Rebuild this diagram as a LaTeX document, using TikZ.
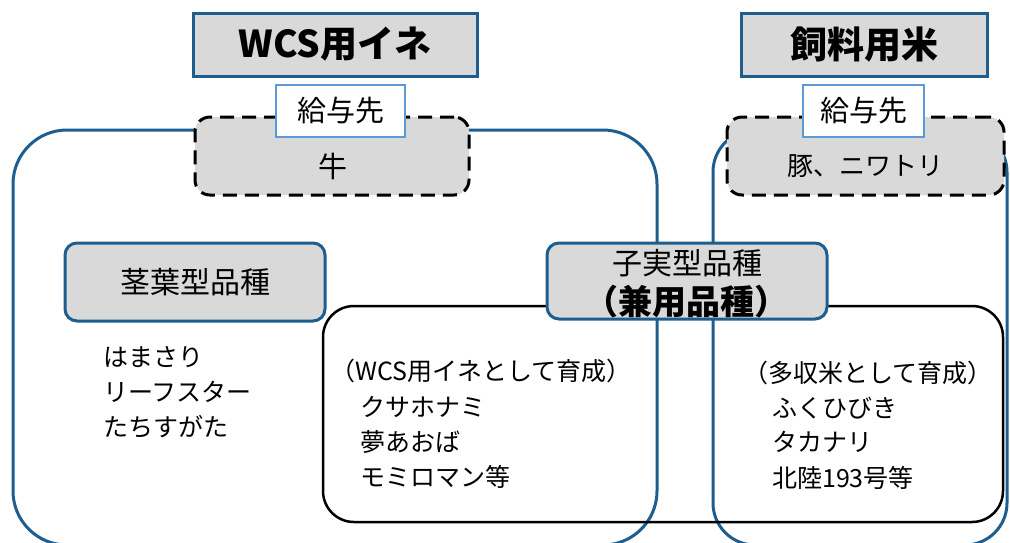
\documentclass[tikz,border=0pt]{standalone}
\usepackage{fontspec}
\setmainfont{Noto Sans CJK JP}
\definecolor{frameblue}{HTML}{1D5E8E}
\definecolor{boxgray}{HTML}{D9D9D9}
\definecolor{lightblue}{HTML}{5B9BD5}
\tikzset{
  bluearea/.style={draw=frameblue, line width=3pt, inner sep=0pt},
  blackarea/.style={draw=black, line width=2.5pt, inner sep=0pt},
  titlebox/.style={draw=frameblue, fill=boxgray, line width=3pt, inner sep=0pt, font=\fontsize{37}{40}\selectfont\bfseries},
  dashbox/.style={draw=black, fill=boxgray, line width=3pt, dash pattern=on 14pt off 8pt, rounded corners=15pt, inner sep=0pt},
  givebox/.style={draw=lightblue, fill=white, line width=1.5pt, inner sep=0pt, font=\fontsize{29}{32}\selectfont},
  kindbox/.style={draw=frameblue, fill=boxgray, line width=3pt, rounded corners=12pt, inner sep=0pt},
  listtext/.style={anchor=west, inner sep=0pt, font=\fontsize{25}{28}\selectfont},
}
\begin{document}
\begin{tikzpicture}[x=1pt,y=-1pt]
\useasboundingbox (0,0) rectangle (1010,542);
\clip (0,0) rectangle (1010,542);
\fill[white] (0,0) rectangle (1010,542);
% large frames
\node[bluearea, rounded corners=54pt, minimum width=644pt, minimum height=415pt] (wcsarea) at (335,337.5) {};
\node[bluearea, rounded corners=42pt, minimum width=294pt, minimum height=415pt] (feedarea) at (860,337.5) {};
\node[blackarea, rounded corners=31pt, minimum width=680pt, minimum height=216pt] (grainarea) at (663,414) {};
% titles
\node[titlebox, minimum width=284pt, minimum height=63pt] (wcstitle) at (335,44.5) {WCS用イネ};
\node[titlebox, minimum width=246pt, minimum height=63pt] (feedtitle) at (864,44.5) {飼料用米};
% feeding targets
\node[dashbox, minimum width=274pt, minimum height=78pt] (cowbox) at (332,156) {};
\node[dashbox, minimum width=277pt, minimum height=78pt] (pigbox) at (865.5,156) {};
\node[givebox, minimum width=129pt, minimum height=52pt] (giveL) at (340.5,111) {給与先};
\node[givebox, minimum width=121pt, minimum height=52pt] (giveR) at (863.5,111) {給与先};
\node[inner sep=0pt, font=\fontsize{29}{32}\selectfont] (cow) at (333,166) {牛};
\node[inner sep=0pt, font=\fontsize{26}{30}\selectfont] (pig) at (865,166) {豚、ニワトリ};
% variety types
\node[kindbox, minimum width=260pt, minimum height=78pt, font=\fontsize{30}{32}\selectfont] (stem) at (195,282) {茎葉型品種};
\node[kindbox, minimum width=280pt, minimum height=76pt] (grain) at (687,281) {};
\node[inner sep=0pt, font=\fontsize{30}{32}\selectfont] (grainA) at (687,263) {子実型品種};
\node[inner sep=0pt, font=\fontsize{34}{36}\selectfont\bfseries] (grainB) at (686,302) {（兼用品種）};
% lists
\node[listtext] (l1) at (103,357) {はまさり};
\node[listtext] (l2) at (103,392) {リーフスター};
\node[listtext] (l3) at (103,427) {たちすがた};
\node[listtext] (m0) at (330,371) {（WCS用イネとして育成）};
\node[listtext] (m1) at (360,407) {クサホナミ};
\node[listtext] (m2) at (360,442) {夢あおば};
\node[listtext] (m3) at (360,477) {モミロマン等};
\node[listtext] (r0) at (743,373) {（多収米として育成）};
\node[listtext] (r1) at (772,408) {ふくひびき};
\node[listtext] (r2) at (772,442) {タカナリ};
\node[listtext] (r3) at (772,478) {北陸193号等};
\end{tikzpicture}
\end{document}
